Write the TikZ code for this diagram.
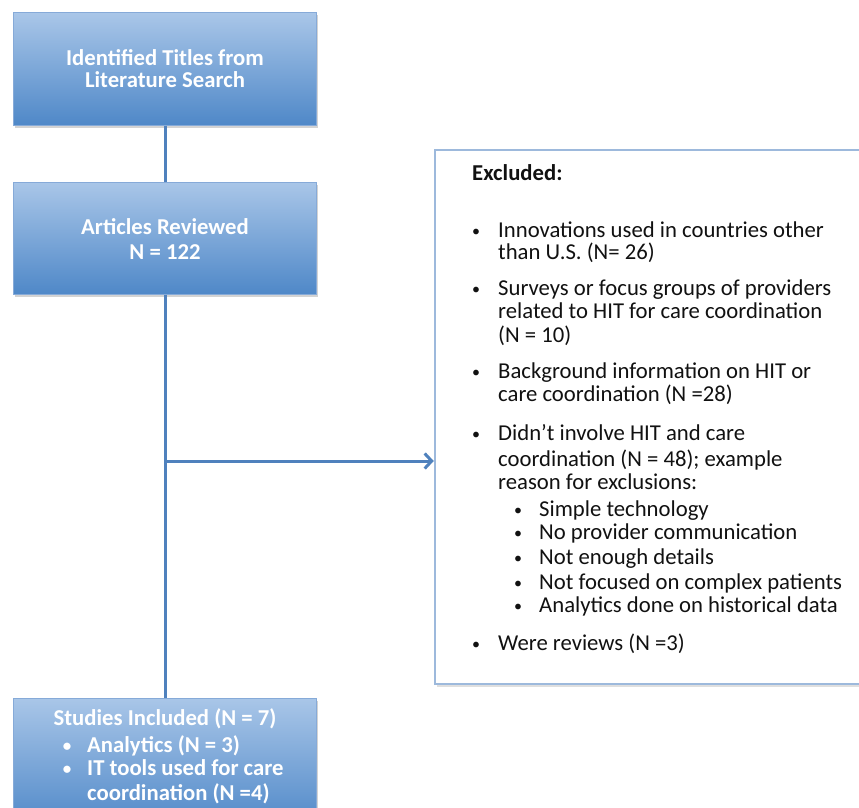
\documentclass[tikz,border=0pt]{standalone}
\usepackage{fontspec}
\setmainfont{Carlito}
\usetikzlibrary{arrows.meta,shadows}
\definecolor{boxtop}{HTML}{A9C6E8}
\definecolor{boxbot}{HTML}{4F88C8}
\definecolor{boxedge}{HTML}{86AAD8}
\definecolor{linec}{HTML}{4F81BD}
\definecolor{exedge}{HTML}{9DB9DC}
\definecolor{extext}{HTML}{111111}
\begin{document}
\begin{tikzpicture}[x=1pt,y=1pt,
  bluebox/.style={draw=boxedge, line width=1pt, top color=boxtop, bottom color=boxbot,
    minimum width=303pt, inner sep=0pt,
    drop shadow={opacity=0.35, shadow xshift=1.5pt, shadow yshift=-2.5pt}},
  exbox/.style={draw=exedge, line width=2.5pt, fill=white, minimum width=445pt,
    minimum height=534pt, inner sep=0pt,
    drop shadow={opacity=0.25, shadow xshift=1.5pt, shadow yshift=-2.5pt}},
  boxtxt/.style={anchor=base, text=white, inner sep=0pt, font=\fontsize{22.7}{23}\selectfont\bfseries},
  boxtxtl/.style={anchor=base west, text=white, inner sep=0pt, font=\fontsize{22.7}{23}\selectfont\bfseries},
  boxbul/.style={anchor=base, text=white, inner sep=0pt, font=\fontsize{17}{23}\selectfont\bfseries},
  exline/.style={anchor=base west, text=extext, inner sep=0pt, font=\fontsize{22.7}{23}\selectfont},
  exbul/.style={anchor=base, text=extext, inner sep=0pt, font=\fontsize{16}{23}\selectfont},
  conn/.style={draw=linec, line width=3pt},
]
\useasboundingbox (0,0) rectangle (859,-808);

% boxes
\node[bluebox, minimum height=112pt] (b1) at (165,-69) {};
\node[bluebox, minimum height=112pt] (b2) at (165,-238) {};
\node[bluebox, minimum height=130pt] (b3) at (165,-763) {};
\node[exbox] (ex) at (657.5,-417) {};

% connectors
\draw[conn] (b1.south) -- (b2.north);
\draw[conn] (b2.south) -- (b3.north);
\coordinate (junc) at (165,-461);
\draw[conn, -{Straight Barb[length=7pt,width=15pt]}] (junc) -- (junc -| ex.west);

% box texts
\node[boxtxt] (t1a) at (165,-66) {Identified Titles from};
\node[boxtxt] (t1b) at (165,-88) {Literature Search};
\node[boxtxt] (t2a) at (165,-234) {Articles Reviewed};
\node[boxtxt] (t2b) at (165,-259) {N = 122};
\node[boxtxt] (t3a) at (165,-725) {Studies Included (N = 7)};
\node[boxbul] (t3b) at (67,-751) {•};
\node[boxtxtl] (t3c) at (87,-752) {Analytics (N = 3)};
\node[boxbul] (t3d) at (67,-774) {•};
\node[boxtxtl] (t3e) at (87,-775) {IT tools used for care};
\node[boxtxtl] (t3f) at (87,-800) {coordination (N =4)};

% excluded texts
\node[exline, font=\fontsize{22.7}{23}\selectfont\bfseries] (exh) at (472,-180) {Excluded:};
\foreach \y [count=\i] in {237,295,378,440,650}
  \node[exbul] (mb\i) at (476,-\y+1) {•};
\foreach \y [count=\i] in {516,539,564,589,612}
  \node[exbul] (sb\i) at (518,-\y+1) {•};
\foreach \x/\y/\t [count=\i] in {
  498/237/{Innovations used in countries other},
  498/259/{than U.S. (N= 26)},
  498/295/{Surveys or focus groups of providers},
  498/318/{related to HIT for care coordination},
  498/342/{(N = 10)},
  498/378/{Background information on HIT or},
  498/401/{care coordination (N =28)},
  498/440/{Didn’t involve HIT and care},
  498/466/{coordination (N = 48); example},
  498/489/{reason for exclusions:},
  539/516/{Simple technology},
  539/539/{No provider communication},
  539/564/{Not enough details},
  539/589/{Not focused on complex patients},
  539/612/{Analytics done on historical data},
  498/650/{Were reviews (N =3)}}
  \node[exline] (el\i) at (\x,-\y) {\t};
\end{tikzpicture}
\end{document}
